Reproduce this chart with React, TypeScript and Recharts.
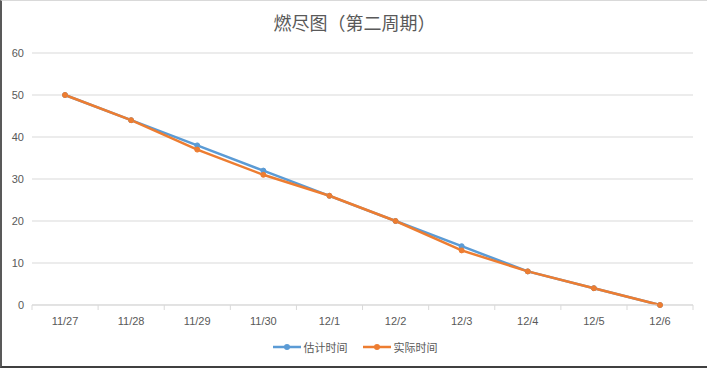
import React from 'react';
import { CartesianGrid, Line, LineChart, XAxis, YAxis } from 'recharts';

const dates = ['11/27', '11/28', '11/29', '11/30', '12/1', '12/2', '12/3', '12/4', '12/5', '12/6'];
const estimated = [50, 44, 38, 32, 26, 20, 14, 8, 4, 0];
const actual = [50, 44, 37, 31, 26, 20, 13, 8, 4, 0];
const yTicks = [0, 10, 20, 30, 40, 50, 60];

const data = dates.map((date, i) => ({ date, estimated: estimated[i], actual: actual[i] }));

const BLUE = '#5B9BD5';
const ORANGE = '#ED7D31';
const TEXT = '#595959';
const FONT = '"Liberation Sans", "Noto Sans CJK SC", sans-serif';
const BAND = 66;

const XTick = (props: any) => {
  const { x, y, payload, index } = props;
  const last = index === dates.length - 1;
  return (
    <g>
      <line x1={x - BAND / 2} y1={y - 8} x2={x - BAND / 2} y2={y - 3} stroke="#d9d9d9" />
      {last && <line x1={x + BAND / 2} y1={y - 8} x2={x + BAND / 2} y2={y - 3} stroke="#d9d9d9" />}
      <text x={x} y={y + 12} textAnchor="middle" fill={TEXT} fontSize={11} fontFamily={FONT}>
        {payload.value}
      </text>
    </g>
  );
};

const LegendContent = () => {
  const items = [
    { name: '估计时间', color: BLUE },
    { name: '实际时间', color: ORANGE },
  ];
  return (
    <div style={{ display: 'flex', justifyContent: 'center', gap: 14, fontFamily: FONT, fontSize: 11, color: TEXT }}>
      {items.map((it) => (
        <div key={it.name} style={{ display: 'flex', alignItems: 'center' }}>
          <svg width={30} height={10}>
            <line x1={1} y1={5} x2={29} y2={5} stroke={it.color} strokeWidth={2.5} />
            <circle cx={15} cy={5} r={3} fill={it.color} />
          </svg>
          <span style={{ marginLeft: 2, fontFamily: '"Noto Sans CJK SC", sans-serif' }}>{it.name}</span>
        </div>
      ))}
    </div>
  );
};

const App = () => {
  return (
    <div
      style={{
        position: 'absolute',
        left: 0,
        top: 0,
        width: 707,
        height: 368,
        background: '#fff',
        boxSizing: 'border-box',
        borderLeft: '2px solid #595959',
        borderTop: '1px solid #d9d9d9',
        borderBottom: '2px solid #404040',
      }}
    >
      <div
        style={{
          position: 'absolute',
          left: 0,
          right: 0,
          top: 8,
          textAlign: 'center',
          fontFamily: '"Noto Sans CJK SC", sans-serif',
          fontSize: 18,
          color: TEXT,
        }}
      >
        燃尽图（第二周期）
      </div>
      <div style={{ position: 'absolute', left: -2, top: -1 }}>
        <LineChart width={707} height={368} data={data} margin={{ top: 53, right: 14, bottom: 0, left: 0 }}>
          <CartesianGrid vertical={false} stroke="#d9d9d9" />
          <XAxis
            dataKey="date"
            axisLine={{ stroke: '#d9d9d9' }}
            tickLine={false}
            tick={<XTick />}
            height={63}
            interval={0}
            padding={{ left: BAND / 2, right: BAND / 2 }}
          />
          <YAxis
            domain={[0, 60]}
            ticks={yTicks}
            width={32}
            axisLine={false}
            tickLine={false}
            tick={{ fill: TEXT, fontSize: 11, fontFamily: FONT }}
          />
          <Line
            type="linear"
            dataKey="estimated"
            name="估计时间"
            stroke={BLUE}
            strokeWidth={2.5}
            dot={{ r: 2.5, fill: BLUE, stroke: BLUE, strokeWidth: 1 }}
            isAnimationActive={false}
          />
          <Line
            type="linear"
            dataKey="actual"
            name="实际时间"
            stroke={ORANGE}
            strokeWidth={2.5}
            dot={{ r: 2.5, fill: ORANGE, stroke: ORANGE, strokeWidth: 1 }}
            isAnimationActive={false}
          />
        </LineChart>
      </div>
      <div style={{ position: 'absolute', left: 0, right: 0, top: 338 }}>
        <LegendContent />
      </div>
    </div>
  );
};

export default App;
